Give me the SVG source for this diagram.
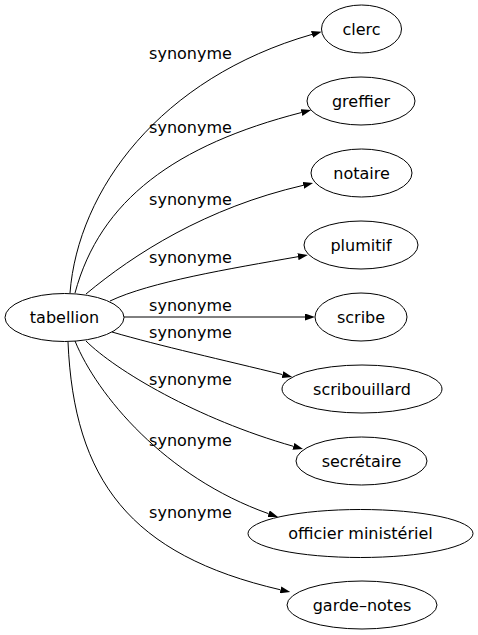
<svg xmlns="http://www.w3.org/2000/svg" width="478" height="635" viewBox="0 0 478 635">
<style>
text{font-family:"DejaVu Sans",sans-serif;font-size:16px;fill:#000;text-anchor:middle}
.n ellipse{fill:none;stroke:#000;stroke-width:1}
.e path{fill:none;stroke:#000;stroke-width:1;marker-end:url(#ah)}
</style>
<defs>
<marker id="ah" markerUnits="userSpaceOnUse" markerWidth="10" markerHeight="7" viewBox="0 0 10 7" refX="0" refY="3.5" orient="auto">
<path d="M0,0 L10,3.5 L0,7 Z" fill="#000"/>
</marker>
</defs>
<rect width="478" height="635" fill="#fff"/>
<g id="edges" class="e">
<path d="M70,293 C78,190 160,78 312,34.4"/>
<path d="M75,293 C100,200 175.4,145 301.5,112.5"/>
<path d="M86,294 C134,254 205.6,207.9 303.3,185.3"/>
<path d="M110,301 C150,282 229,268.8 298,256.7"/>
<path d="M124,317 L305,317"/>
<path d="M112,332 C160,346 224.3,360.2 282.5,374.6"/>
<path d="M86,341 C115,370 197,419 293.4,446.3"/>
<path d="M75,341 C97,395 165,477 268.6,513.7"/>
<path d="M68,342 C74,480 130,555 280.5,589.8"/>
</g>
<g id="labels">
<text x="190.5" y="58.5">synonyme</text>
<text x="190.5" y="133">synonyme</text>
<text x="190.5" y="204.5">synonyme</text>
<text x="190.5" y="263">synonyme</text>
<text x="190.5" y="310.7">synonyme</text>
<text x="190.5" y="338">synonyme</text>
<text x="190.5" y="384.5">synonyme</text>
<text x="190.5" y="445.5">synonyme</text>
<text x="190.5" y="518">synonyme</text>
</g>
<g id="tabellion" class="n"><ellipse cx="64.5" cy="317.5" rx="59.5" ry="24"/><text x="64.5" y="323">tabellion</text></g>
<g id="clerc" class="n"><ellipse cx="361.5" cy="29" rx="40" ry="24"/><text x="361.5" y="34.5">clerc</text></g>
<g id="greffier" class="n"><ellipse cx="361" cy="101" rx="54" ry="24"/><text x="361" y="106.5">greffier</text></g>
<g id="notaire" class="n"><ellipse cx="361.5" cy="173" rx="50.5" ry="24"/><text x="361.5" y="178.5">notaire</text></g>
<g id="plumitif" class="n"><ellipse cx="361" cy="245" rx="57" ry="24"/><text x="361" y="250.5">plumitif</text></g>
<g id="scribe" class="n"><ellipse cx="361" cy="317" rx="46" ry="24"/><text x="361" y="322.5">scribe</text></g>
<g id="scribouillard" class="n"><ellipse cx="362" cy="389" rx="80" ry="24"/><text x="362" y="394.5">scribouillard</text></g>
<g id="secretaire" class="n"><ellipse cx="361.5" cy="461" rx="65.5" ry="24"/><text x="361.5" y="466.5">secrétaire</text></g>
<g id="officier_ministeriel" class="n"><ellipse cx="360.5" cy="533.5" rx="112.5" ry="24"/><text x="360.5" y="539">officier ministériel</text></g>
<g id="garde-notes" class="n"><ellipse cx="362" cy="605" rx="75" ry="24"/><text x="362" y="610.5">garde–notes</text></g>
</svg>
